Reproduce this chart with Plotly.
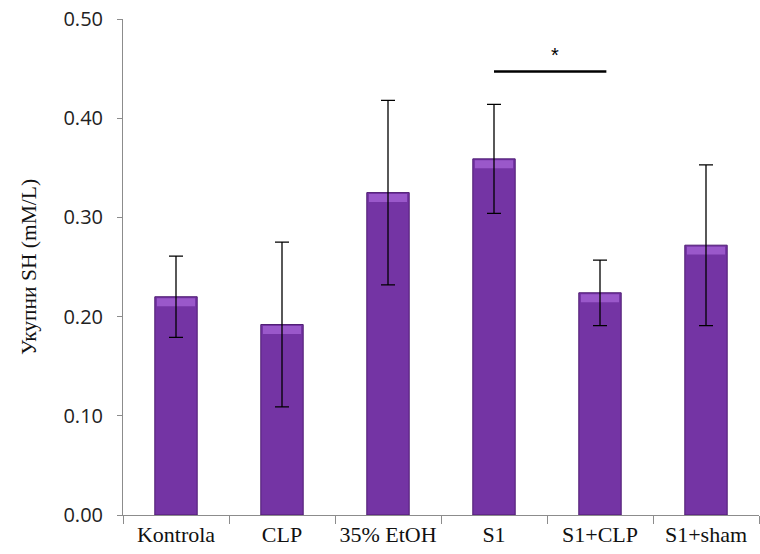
import plotly.graph_objects as go

categories = ["Kontrola", "CLP", "35% EtOH", "S1", "S1+CLP", "S1+sham"]
values = [0.220, 0.192, 0.325, 0.359, 0.224, 0.272]
errors = [0.041, 0.083, 0.093, 0.055, 0.033, 0.081]
y_ticks = [0.0, 0.1, 0.2, 0.3, 0.4, 0.5]
y_tick_labels = ["0.00", "0.10", "0.20", "0.30", "0.40", "0.50"]
sig_pair = ("S1", "S1+CLP")
sig_level = 0.447
sig_label = "*"

bevel = 0.008

fig = go.Figure()
fig.add_trace(go.Bar(
    x=categories, y=values,
    width=0.4,
    marker=dict(color="#7434A4", line=dict(color="#4E1B72", width=1)),
    hoverinfo="skip",
))
# light bevel strip at the top of each bar
fig.add_trace(go.Bar(
    x=categories, y=[bevel] * len(values), base=[v - bevel - 0.0015 for v in values],
    width=0.36,
    marker=dict(color="#9A58CA", line=dict(width=0)),
    hoverinfo="skip",
))
# error bars drawn on top
fig.add_trace(go.Bar(
    x=categories, y=values,
    width=0.4,
    marker=dict(color="rgba(0,0,0,0)", line=dict(width=0)),
    error_y=dict(type="data", array=errors, visible=True,
                 color="#000000", thickness=1.3, width=7),
    hoverinfo="skip",
))

i0 = categories.index(sig_pair[0])
i1 = categories.index(sig_pair[1])
fig.add_shape(type="line", xref="x", yref="y",
              x0=i0, x1=i1 + 0.06, y0=sig_level, y1=sig_level,
              line=dict(color="black", width=2.5))
fig.add_annotation(x=(i0 + i1 + 0.06) / 2 + 0.05, y=sig_level, yref="y", xref="x",
                   text=sig_label, showarrow=False, yshift=17,
                   font=dict(family="Liberation Sans, Arial", size=20, color="black"))

fig.update_layout(
    width=760, height=554,
    margin=dict(l=123, r=1, t=19, b=39),
    plot_bgcolor="white", paper_bgcolor="white",
    showlegend=False,
    barmode="overlay",
)
fig.update_yaxes(
    range=[0, 0.5], tickvals=y_ticks, ticktext=y_tick_labels,
    showgrid=False, showline=True, linecolor="#8c8c8c", linewidth=1,
    ticks="outside", ticklen=5, tickcolor="#8c8c8c",
    ticklabelstandoff=10, automargin=False,
    tickfont=dict(family="Open Sans, Liberation Sans, Arial", size=20, color="#222"),
    title=dict(text="Укупни SH (mM/L)", standoff=20,
               font=dict(family="Liberation Serif, Times New Roman", size=21.5, color="#111")),
    zeroline=False,
)
fig.update_xaxes(
    range=[-0.5, 5.5], type="category", tickson="boundaries",
    showgrid=False, showline=True, linecolor="#8c8c8c", linewidth=1,
    ticks="outside", ticklen=8, tickcolor="#8c8c8c",
    tickangle=0, automargin=False,
    tickfont=dict(family="Liberation Serif, Times New Roman", size=22, color="#111"),
)

fig.write_html("out.html", config={"displayModeBar": False},
               post_script="document.body.style.margin='0';document.body.style.overflow='hidden';")
